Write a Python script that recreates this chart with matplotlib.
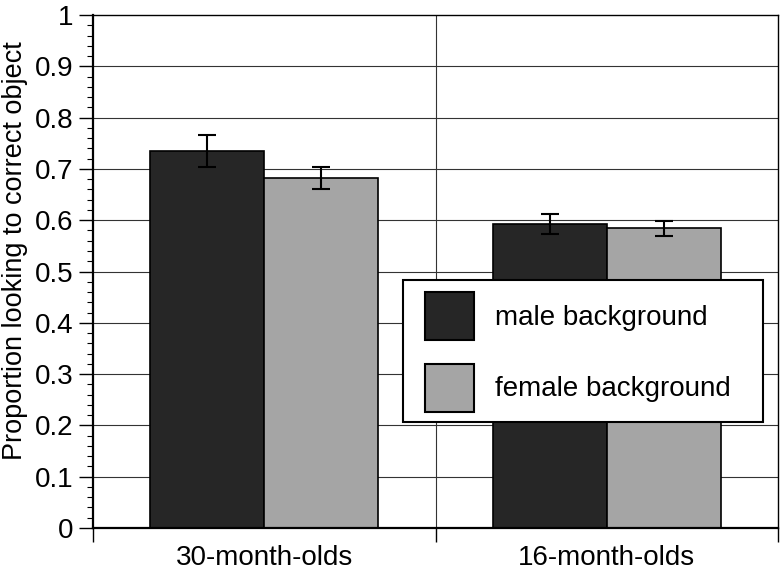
import matplotlib
matplotlib.use("Agg")
import matplotlib.pyplot as plt
import numpy as np
from matplotlib.ticker import MultipleLocator, FixedLocator
from matplotlib.patches import Rectangle

categories = ["30-month-olds", "16-month-olds"]
series_names = ["male background", "female background"]
male_vals = [0.735, 0.593]
female_vals = [0.682, 0.584]
male_err = [0.032, 0.020]
female_err = [0.022, 0.015]
y_ticks = [0, 0.1, 0.2, 0.3, 0.4, 0.5, 0.6, 0.7, 0.8, 0.9, 1]
y_ticklabels = ["0", "0.1", "0.2", "0.3", "0.4", "0.5", "0.6", "0.7", "0.8", "0.9", "1"]

plt.rcParams['font.family'] = ['Liberation Sans', 'DejaVu Sans']

W, H = 780, 570
fig = plt.figure(figsize=(W/100, H/100), dpi=100)
ax = fig.add_axes([93/W, 1-528/H, (778-93)/W, (528-15)/H])

x = np.arange(len(categories))
w = 1/3
dark = "#262626"
light = "#a5a5a5"

for yv in y_ticks[1:-1]:
    ax.axhline(yv, color="#333333", lw=0.8, zorder=0)
ax.axvline(0.5, color="#333333", lw=0.8, zorder=0)

ax.bar(x - w/2, male_vals, w, color=dark, edgecolor="black", lw=1.2,
       label=series_names[0], zorder=2)
ax.bar(x + w/2, female_vals, w, color=light, edgecolor="black", lw=1.2,
       label=series_names[1], zorder=2)
ax.errorbar(x - w/2, male_vals, yerr=male_err, fmt="none", ecolor="black",
            elinewidth=1.5, capsize=6.8, capthick=1.5, zorder=3)
ax.errorbar(x + w/2, female_vals, yerr=female_err, fmt="none", ecolor="black",
            elinewidth=1.5, capsize=6.8, capthick=1.5, zorder=3)

ax.set_xlim(-0.5, 1.5)
ax.set_ylim(0, 1)

ax.yaxis.set_major_locator(FixedLocator(y_ticks))
ax.set_yticklabels(y_ticklabels, fontsize=20)
ax.yaxis.set_minor_locator(MultipleLocator(0.02))
ax.tick_params(axis="y", which="major", direction="out", length=10, width=1, pad=4)
ax.tick_params(axis="y", which="minor", direction="out", length=4.5, width=0.8)

ax.xaxis.set_major_locator(FixedLocator([-0.5, 0.5, 1.5]))
ax.set_xticklabels(["", "", ""])
ax.xaxis.set_minor_locator(FixedLocator(x))
ax.set_xticklabels(categories, minor=True, fontsize=20)
ax.tick_params(axis="x", which="major", direction="out", length=10, width=1)
ax.tick_params(axis="x", which="minor", length=0, pad=12)

for s in ax.spines.values():
    s.set_color("black")
    s.set_linewidth(1.0)
ax.spines["left"].set_linewidth(1.6)
ax.spines["bottom"].set_linewidth(1.6)

ax.set_ylabel("Proportion looking to correct object", fontsize=19.5,
              labelpad=5, y=0.54)

# legend frame drawn as a rectangle in figure pixels
frame = Rectangle((403/W, 1-422/H), 360/W, 142/H, transform=fig.transFigure,
                  facecolor="white", edgecolor="black", lw=1.5, zorder=4,
                  clip_on=False)
ax.add_patch(frame)

leg = ax.legend(loc="upper left", bbox_to_anchor=(425/W, 1-292/H),
                bbox_transform=fig.transFigure, fontsize=20, frameon=False,
                handlelength=1.76, handleheight=2.28, handletextpad=0.75,
                labelspacing=0.85, borderpad=0, borderaxespad=0)
leg.set_zorder(5)
for p in leg.get_patches():
    p.set_linewidth(1.5)

fig.savefig("out.png", dpi=100)
